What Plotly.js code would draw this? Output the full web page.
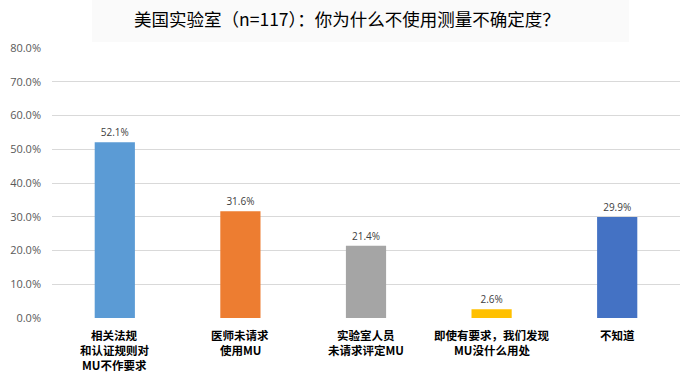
<!DOCTYPE html>
<html><head><meta charset="utf-8">
<script src="https://cdn.plot.ly/plotly-3.0.1.min.js"></script>
<style>html,body{margin:0;padding:0;background:#fff}#chart{width:687px;height:382px}</style>
</head><body><div id="chart"></div>
<script>
const categories = ["相关法规\n和认证规则对\nMU不作要求", "医师未请求\n使用MU", "实验室人员\n未请求评定MU", "即使有要求，我们发现\nMU没什么用处", "不知道"];
const values = [0.521, 0.316, 0.214, 0.026, 0.299];
const barColors = ["#5B9BD5", "#ED7D31", "#A5A5A5", "#FFC000", "#4472C4"];
const tickVals = [0, 0.1, 0.2, 0.3, 0.4, 0.5, 0.6, 0.7, 0.8];
const titleText = "美国实验室（n=117）：你为什么不使用测量不确定度？";

const trace = {
  type: "bar", x: categories, y: values,
  marker: {color: barColors},
  text: values.map(v => (v*100).toFixed(1) + "%"),
  textposition: "outside", cliponaxis: false,
  textfont: {family: "'Open Sans', 'Liberation Sans', sans-serif", size: 10, color: "#404040"},
  hoverinfo: "none"
};

const annotations = [];
categories.forEach(c => {
  c.split("\n").forEach((line, i) => {
    annotations.push({xref: "x", yref: "paper", x: c, y: 0, yanchor: "middle", showarrow: false,
      yshift: -17 - 15 * i, text: line,
      font: {family: "'Noto Sans CJK SC', sans-serif", size: 11.5, color: "#000", weight: "bold"}});
  });
});

const layout = {
  width: 687, height: 382,
  margin: {l: 52, r: 7, t: 48, b: 64},
  paper_bgcolor: "#fff", plot_bgcolor: "#fff",
  bargap: 0.68,
  showlegend: false,
  title: {text: titleText, x: 0.505, xanchor: "center", y: 0.948, yanchor: "middle",
    font: {family: "'Noto Sans CJK SC', sans-serif", size: 17.5, color: "#000"}},
  shapes: [{type: "rect", xref: "paper", yref: "paper", x0: (92-52)/628, x1: (629-52)/628,
    y0: 1 + (48-42)/270, y1: 1 + 48/270, fillcolor: "#fafafa", line: {width: 0}, layer: "below"}],
  annotations: annotations,
  xaxis: {type: "category", showgrid: false, showline: false, ticks: "", showticklabels: false},
  yaxis: {range: [0, 0.8], tickvals: tickVals, tickformat: ".1%", showline: false, zeroline: false,
    gridcolor: "#d9d9d9", gridwidth: 1, ticks: "", ticklen: 0, ticklabelstandoff: 10,
    tickfont: {family: "'Open Sans', 'Liberation Sans', sans-serif", size: 11, color: "#595959"}}
};
Plotly.newPlot("chart", [trace], layout, {displayModeBar: false, staticPlot: true});
</script></body></html>
